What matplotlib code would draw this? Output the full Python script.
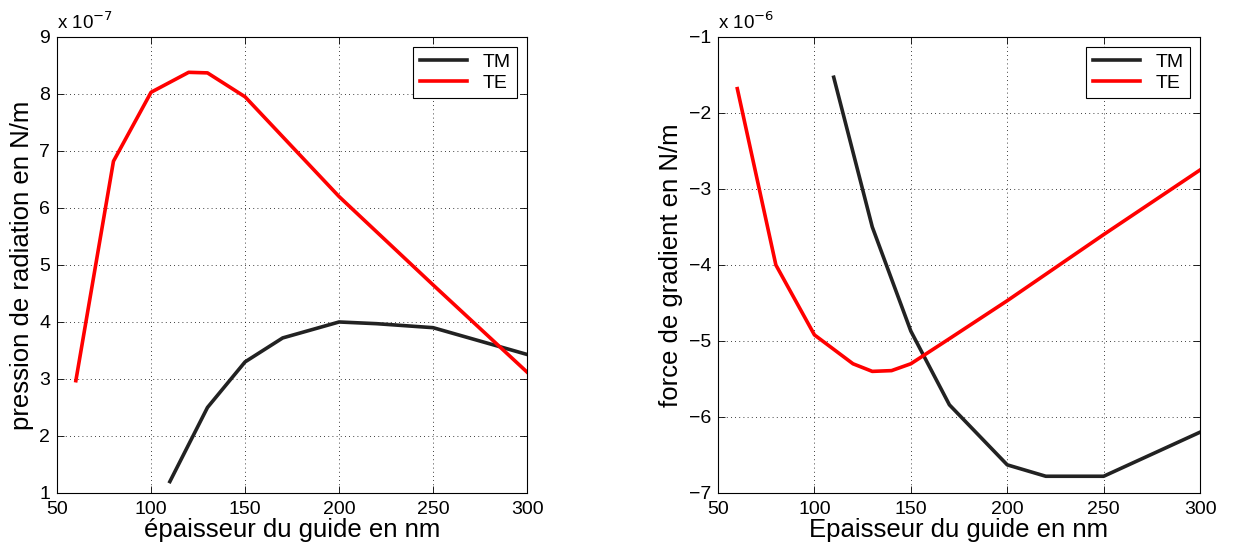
import numpy as np
import matplotlib.pyplot as plt

plt.rcParams['font.family'] = ['Liberation Sans', 'DejaVu Sans']

# left panel: radiation pressure (x 1e-7 N/m)
x_te_p = [60, 80, 100, 120, 130, 150, 170, 200, 250, 300]
te_p = [2.97, 6.82, 8.03, 8.38, 8.37, 7.95, 7.25, 6.2, 4.65, 3.12]
x_tm_p = [110, 130, 150, 170, 200, 220, 250, 300]
tm_p = [1.2, 2.5, 3.3, 3.72, 4.0, 3.97, 3.9, 3.43]

# right panel: gradient force (x 1e-6 N/m)
x_te_g = [60, 80, 100, 120, 130, 140, 150, 170, 200, 250, 300]
te_g = [-1.68, -4.0, -4.92, -5.3, -5.4, -5.39, -5.3, -4.97, -4.47, -3.6, -2.75]
x_tm_g = [110, 130, 150, 170, 200, 220, 250, 300]
tm_g = [-1.53, -3.5, -4.87, -5.84, -6.63, -6.78, -6.78, -6.2]

xticks = [50, 100, 150, 200, 250, 300]

fig = plt.figure(figsize=(12.35, 5.51), dpi=100)
ax1 = fig.add_axes([0.0462, 0.1053, 0.3806, 0.8276])
ax2 = fig.add_axes([0.5814, 0.1053, 0.3903, 0.8276])

def style(ax, ylim, yticks, xlabel, ylabel, expo):
    ax.set_xlim(50, 300)
    ax.set_ylim(*ylim)
    ax.set_xticks(xticks)
    ax.set_yticks(yticks)
    ax.set_yticklabels([str(v).replace('-', '\u2212') for v in yticks])
    ax.tick_params(direction='in', top=True, right=True, labelsize=14, length=5, width=0.6)
    ax.tick_params(axis='x', pad=6)
    ax.tick_params(axis='y', pad=5)
    ax.grid(True, linestyle=(0, (1, 4)), color='black', linewidth=0.6)
    for s in ax.spines.values():
        s.set_linewidth(0.8)
    ax.set_xlabel(xlabel, fontsize=18.5, labelpad=0)
    ax.set_ylabel(ylabel, fontsize=18.5, labelpad=4)
    ax.text(0.0, 1.008, r'x 10$^{%s}$' % expo, transform=ax.transAxes, fontsize=13.5, va='bottom')
    leg = ax.legend(loc='upper right', fontsize=14, fancybox=False, framealpha=1,
                    edgecolor='black', handlelength=2.4, borderaxespad=0.5,
                    labelspacing=0.15, borderpad=0.35)
    leg.get_frame().set_linewidth(0.8)

ax1.plot(x_tm_p, tm_p, color='#222222', lw=2.6, label='TM')
ax1.plot(x_te_p, te_p, color='#ff0000', lw=2.6, label='TE')
style(ax1, (1, 9), [1, 2, 3, 4, 5, 6, 7, 8, 9], '\u00e9paisseur du guide en nm',
      'pression de radiation en N/m', '\u22127')

ax2.plot(x_tm_g, tm_g, color='#222222', lw=2.6, label='TM')
ax2.plot(x_te_g, te_g, color='#ff0000', lw=2.6, label='TE')
style(ax2, (-7, -1), [-7, -6, -5, -4, -3, -2, -1], 'Epaisseur du guide en nm',
      'force de gradient en N/m', '\u22126')

fig.savefig('out.png', dpi=100)
